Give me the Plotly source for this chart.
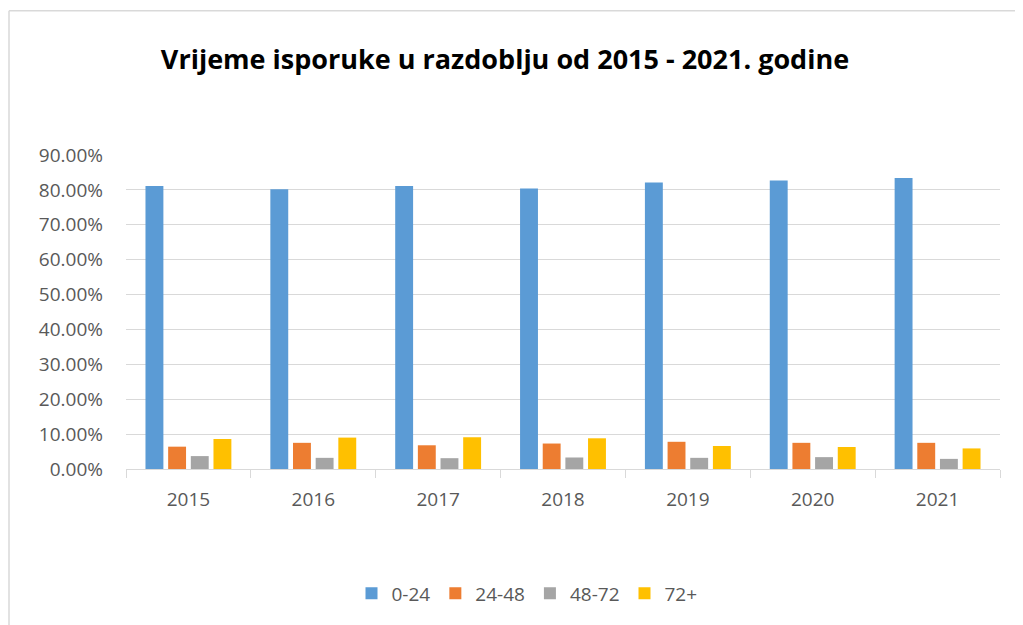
import plotly.graph_objects as go

years = ["2015", "2016", "2017", "2018", "2019", "2020", "2021"]
series_names = ["0-24", "24-48", "48-72", "72+"]
v_0_24 = [0.811, 0.802, 0.811, 0.804, 0.821, 0.827, 0.834]
v_24_48 = [0.064, 0.075, 0.068, 0.073, 0.078, 0.075, 0.075]
v_48_72 = [0.037, 0.032, 0.031, 0.033, 0.032, 0.034, 0.029]
v_72 = [0.086, 0.090, 0.091, 0.088, 0.066, 0.063, 0.059]
colors = ["#5B9BD5", "#ED7D31", "#A5A5A5", "#FFC000"]

fig = go.Figure()
for name, vals, col in zip(series_names, [v_0_24, v_24_48, v_48_72, v_72], colors):
    fig.add_trace(go.Bar(x=years, y=vals, name=name, marker=dict(color=col, line=dict(width=0))))

txt = "#595959"
W, H = 1015, 617
L, R, T, B = 118, 23, 147, 155.5
pw, ph = W - L - R, H - T - B
fig.update_layout(
    width=W, height=H,
    margin=dict(l=L, r=R, t=T, b=B, pad=0),
    paper_bgcolor="white", plot_bgcolor="white",
    barmode="group", bargap=0.274, bargroupgap=0.21,
    font=dict(family="Open Sans", size=19, color=txt),
    title=dict(text="<b>Vrijeme isporuke u razdoblju od 2015 - 2021. godine</b>",
               x=497 / W, xanchor="center", y=1 - 52 / H, yanchor="middle",
               font=dict(family="Open Sans", size=27, color="#000000")),
    legend=dict(orientation="h", x=(519 - L) / pw, xanchor="center", y=(461.5 - 586) / ph, yanchor="middle",
                font=dict(size=19, color=txt), itemwidth=30, traceorder="normal"),
    xaxis=dict(showgrid=False, showline=True, linecolor="#D9D9D9", linewidth=1,
               ticks="outside", tickson="boundaries", ticklen=8, tickcolor="#D9D9D9",
               ticklabelstandoff=13, tickfont=dict(size=19, color=txt)),
    yaxis=dict(range=[0, 0.9], dtick=0.1, tickformat=".2%", showgrid=True,
               gridcolor="#D9D9D9", gridwidth=1, zeroline=False, showline=False,
               ticks="", ticklabelstandoff=22, tickfont=dict(size=19, color=txt)),
    shapes=[
        dict(type="line", xref="paper", yref="paper", x0=(1 - L) / pw, x1=1.1,
             y0=(461.5 - 2.5) / ph, y1=(461.5 - 2.5) / ph, line=dict(color="#D9D9D9", width=1.5)),
        dict(type="line", xref="paper", yref="paper", x0=(1 - L) / pw, x1=(1 - L) / pw,
             y0=(461.5 - 2.5) / ph, y1=-0.6, line=dict(color="#D9D9D9", width=1.5)),
    ],
)
fig.write_html("out.html")
